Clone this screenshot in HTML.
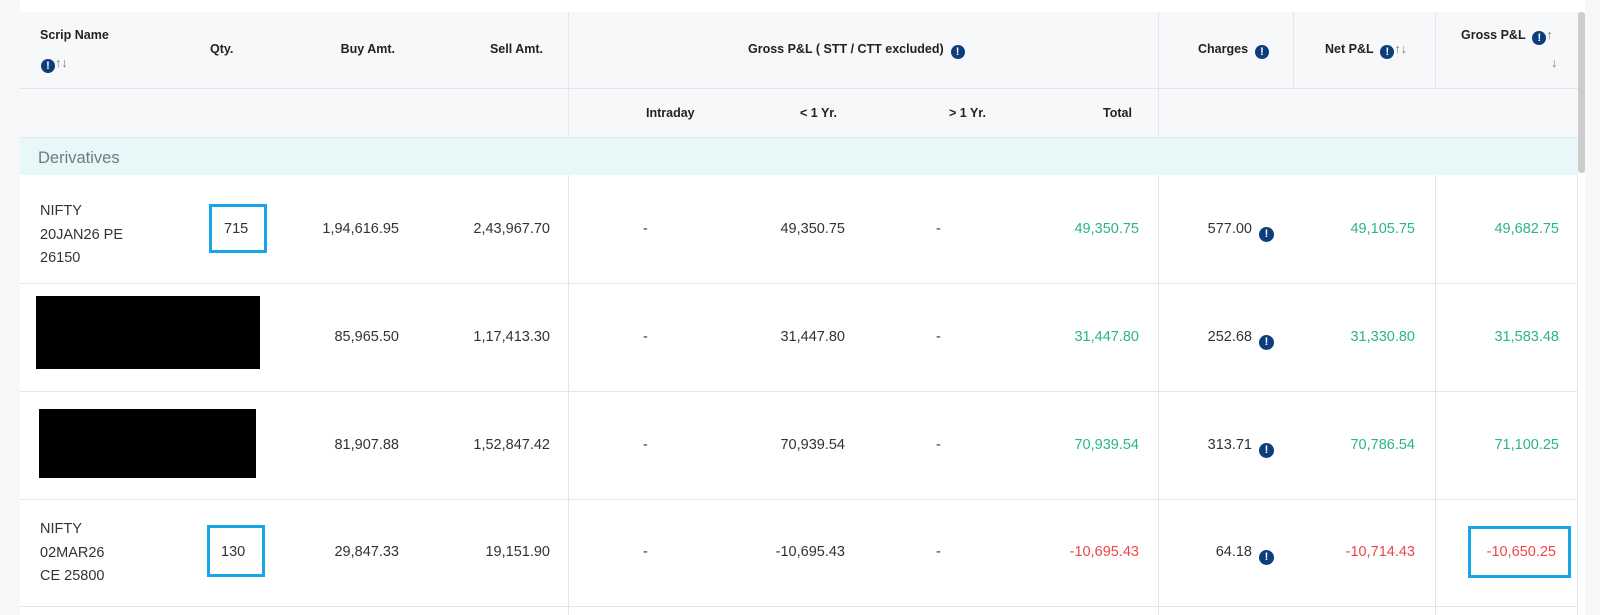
<!DOCTYPE html>
<html><head><meta charset="utf-8"><style>
body{margin:0;width:1600px;height:615px;overflow:hidden;background:#fff;font-family:"Liberation Sans",sans-serif;position:relative;color:#333}
div,span{position:absolute;box-sizing:border-box}
.t{white-space:nowrap;font-size:14.5px;line-height:18px}
.h{white-space:nowrap;font-size:12.5px;font-weight:bold;line-height:16px;color:#222}
.r{text-align:right}
.g{color:#2cb67d}.red{color:#f0444b}
.ic{position:relative;display:inline-block;width:14px;height:14px;border-radius:50%;background:#0e3d7c;color:#fff;font-size:11px;font-weight:bold;text-align:center;line-height:14px;vertical-align:-2px}
.ar{color:#777;font-weight:normal}
.vl{width:1px;background:#e3e5e8}
.hl{height:1px;background:#e3e5e8}
.box{border:3px solid #1aa3e8}
.blk{background:#000}
</style></head><body>
<div style="left:0;top:0;width:20px;height:615px;background:#f6f7f9"></div>
<div style="left:1585px;top:0;width:15px;height:615px;background:#f6f7f9"></div>
<div style="left:20px;top:12px;width:1558px;height:126px;background:#f7f8fa"></div>
<div style="left:1578px;top:12px;width:7px;height:161px;background:#ccc;border-radius:3px"></div>
<div class="hl" style="left:20px;top:88px;width:1558px"></div>
<div class="hl" style="left:20px;top:137px;width:1558px"></div>
<div style="left:20px;top:138px;width:1558px;height:37px;background:#e8f7f8"></div>
<div class="t" style="left:38px;top:148px;font-size:16.5px;line-height:20px;color:#6b7c85">Derivatives</div>
<div class="vl" style="left:568px;top:12px;height:126px"></div>
<div class="vl" style="left:1158px;top:12px;height:126px"></div>
<div class="vl" style="left:1293px;top:12px;height:76px"></div>
<div class="vl" style="left:1435px;top:12px;height:76px"></div>
<div class="vl" style="left:568px;top:175px;height:440px"></div>
<div class="vl" style="left:1158px;top:175px;height:440px"></div>
<div class="vl" style="left:1435px;top:175px;height:440px"></div>
<div class="hl" style="left:20px;top:283px;width:1558px"></div>
<div class="hl" style="left:20px;top:391px;width:1558px"></div>
<div class="hl" style="left:20px;top:499px;width:1558px"></div>
<div class="hl" style="left:20px;top:606px;width:1558px"></div>
<div class="vl" style="left:1577px;top:175px;height:440px"></div>

<div class="h" style="left:40px;top:27px">Scrip Name</div>
<div class="h" style="left:41px;top:55px"><span class="ic">!</span><span class="ar" style="position:relative">↑↓</span></div>
<div class="h" style="left:210px;top:41px">Qty.</div>
<div class="h r" style="right:1205px;top:41px">Buy Amt.</div>
<div class="h r" style="right:1057px;top:41px">Sell Amt.</div>
<div class="h" style="left:748px;top:41px">Gross P&amp;L ( STT / CTT excluded) &nbsp;<span class="ic">!</span></div>
<div class="h" style="left:1198px;top:41px">Charges &nbsp;<span class="ic">!</span></div>
<div class="h" style="left:1325px;top:41px">Net P&amp;L &nbsp;<span class="ic">!</span><span class="ar" style="position:relative">↑↓</span></div>
<div class="h" style="left:1461px;top:27px">Gross P&amp;L &nbsp;<span class="ic">!</span><span class="ar" style="position:relative">↑</span></div>
<div class="h ar" style="left:1551px;top:55px">↓</div>
<div class="h" style="left:646px;top:105px">Intraday</div>
<div class="h" style="left:800px;top:105px">&lt; 1 Yr.</div>
<div class="h" style="left:949px;top:105px">&gt; 1 Yr.</div>
<div class="h" style="left:1103px;top:105px">Total</div>

<!-- row 1 -->
<div class="t" style="left:40px;top:200px;line-height:23.5px">NIFTY<br>20JAN26 PE<br>26150</div>
<div class="box" style="left:209px;top:204px;width:58px;height:49px"></div>
<div class="t" style="left:224px;top:220px">715</div>
<div class="t r" style="right:1201px;top:220px">1,94,616.95</div>
<div class="t r" style="right:1050px;top:220px">2,43,967.70</div>
<div class="t" style="left:643px;top:220px">-</div>
<div class="t r" style="right:755px;top:220px">49,350.75</div>
<div class="t" style="left:936px;top:220px">-</div>
<div class="t g r" style="right:461px;top:220px">49,350.75</div>
<div class="t r" style="right:348px;top:220px">577.00</div><div style="left:1259px;top:222px"><span class="ic" style="width:15px;height:15px">!</span></div>
<div class="t g r" style="right:185px;top:220px">49,105.75</div>
<div class="t g r" style="right:41px;top:220px">49,682.75</div>
<!-- row 2 -->
<div class="blk" style="left:36px;top:296px;width:224px;height:73px"></div>
<div class="t r" style="right:1201px;top:328px">85,965.50</div>
<div class="t r" style="right:1050px;top:328px">1,17,413.30</div>
<div class="t" style="left:643px;top:328px">-</div>
<div class="t r" style="right:755px;top:328px">31,447.80</div>
<div class="t" style="left:936px;top:328px">-</div>
<div class="t g r" style="right:461px;top:328px">31,447.80</div>
<div class="t r" style="right:348px;top:328px">252.68</div><div style="left:1259px;top:330px"><span class="ic" style="width:15px;height:15px">!</span></div>
<div class="t g r" style="right:185px;top:328px">31,330.80</div>
<div class="t g r" style="right:41px;top:328px">31,583.48</div>
<!-- row 3 -->
<div class="blk" style="left:39px;top:409px;width:217px;height:69px"></div>
<div class="t r" style="right:1201px;top:436px">81,907.88</div>
<div class="t r" style="right:1050px;top:436px">1,52,847.42</div>
<div class="t" style="left:643px;top:436px">-</div>
<div class="t r" style="right:755px;top:436px">70,939.54</div>
<div class="t" style="left:936px;top:436px">-</div>
<div class="t g r" style="right:461px;top:436px">70,939.54</div>
<div class="t r" style="right:348px;top:436px">313.71</div><div style="left:1259px;top:438px"><span class="ic" style="width:15px;height:15px">!</span></div>
<div class="t g r" style="right:185px;top:436px">70,786.54</div>
<div class="t g r" style="right:41px;top:436px">71,100.25</div>
<!-- row 4 -->
<div class="t" style="left:40px;top:518px;line-height:23.5px">NIFTY<br>02MAR26<br>CE 25800</div>
<div class="box" style="left:207px;top:525px;width:58px;height:52px"></div>
<div class="t" style="left:221px;top:543px">130</div>
<div class="t r" style="right:1201px;top:543px">29,847.33</div>
<div class="t r" style="right:1050px;top:543px">19,151.90</div>
<div class="t" style="left:643px;top:543px">-</div>
<div class="t r" style="right:755px;top:543px">-10,695.43</div>
<div class="t" style="left:936px;top:543px">-</div>
<div class="t red r" style="right:461px;top:543px">-10,695.43</div>
<div class="t r" style="right:348px;top:543px">64.18</div><div style="left:1259px;top:545px"><span class="ic" style="width:15px;height:15px">!</span></div>
<div class="t red r" style="right:185px;top:543px">-10,714.43</div>
<div class="box" style="left:1468px;top:526px;width:103px;height:52px"></div>
<div class="t red r" style="right:44px;top:543px">-10,650.25</div>
</body></html>
